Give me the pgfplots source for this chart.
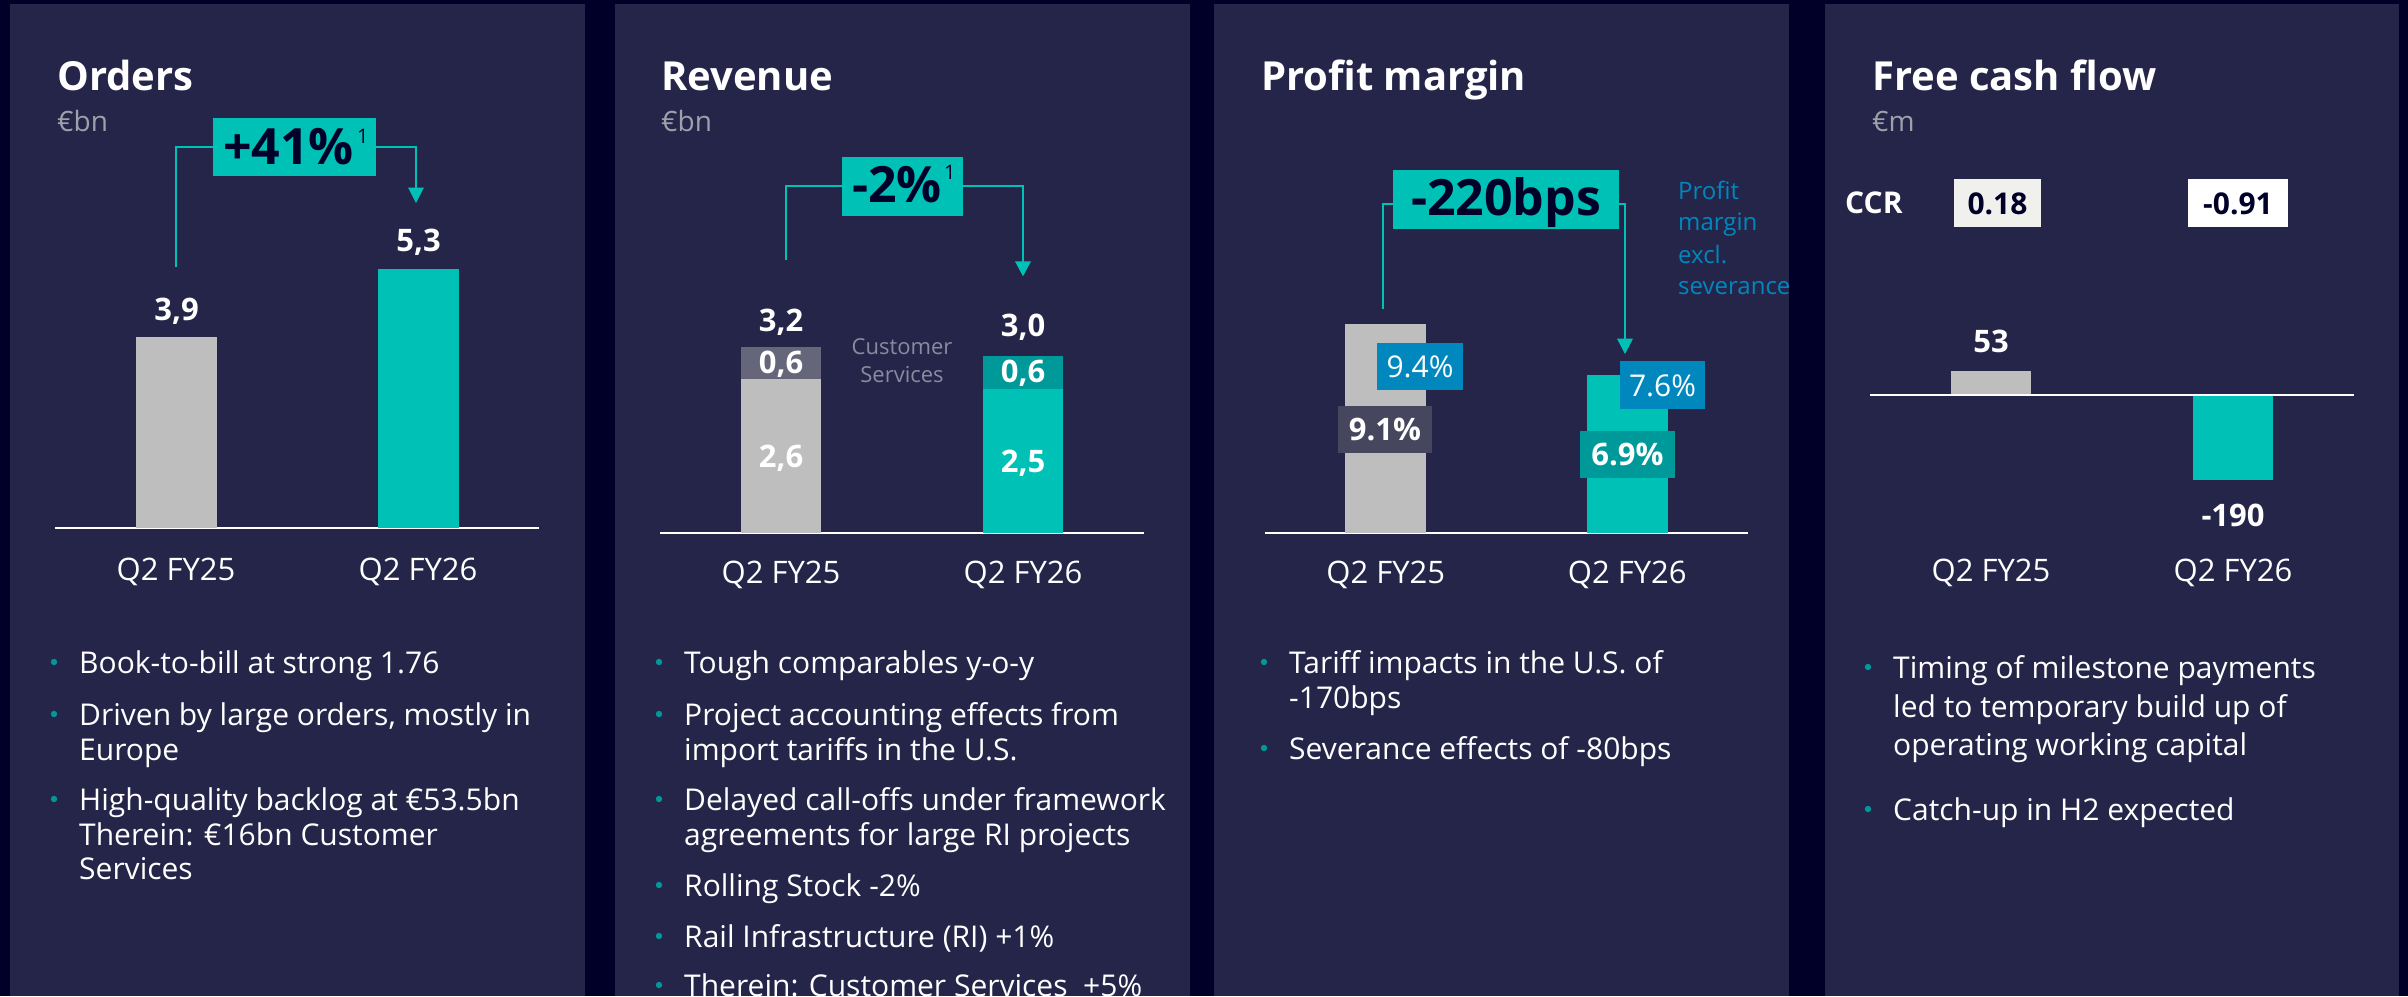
\documentclass[border=0pt]{standalone}
\usepackage{fontspec}
\setmainfont{Open Sans}
\usepackage{pgfplots}
\pgfplotsset{compat=1.18}
\definecolor{bgc}{HTML}{000028}
\definecolor{panelc}{HTML}{252549}
\definecolor{sTeal}{HTML}{00C1B6}
\definecolor{sGray}{HTML}{BEBEBE}
\definecolor{sDGray}{HTML}{66667A}
\definecolor{sDTeal}{HTML}{009999}
\definecolor{sBlue}{HTML}{0087BE}
\definecolor{sBox}{HTML}{46465F}
\definecolor{sSub}{HTML}{A0A0AA}
\definecolor{sCS}{HTML}{8A8AA0}
\definecolor{sNavy}{HTML}{000028}
\definecolor{sLight}{HTML}{F0F0EC}
\newcommand\fs[1]{\fontsize{#1}{#1}\selectfont}
\tikzset{
  t/.style={inner sep=0pt, anchor=base west, text=white},
  tc/.style={inner sep=0pt, anchor=base, text=white},
  conn/.style={sTeal, line width=2pt},
}
\newcommand\bul[3]{\fill[sDTeal] (#1-25,#2-11) circle (3.2);
  \node[t, font=\fs{30}] at (#1,#2) {#3};}
\newcommand\lnx[3]{\node[t, font=\fs{30}] at (#1,#2) {#3};}
\pgfplotsset{panel/.style={scale only axis, xmin=-0.5, xmax=1.5, ymin=0,
  axis y line=none, axis x line*=bottom,
  x axis line style={white, line width=2pt},
  xtick={0,1}, xticklabels={Q2 FY25,Q2 FY26}, major tick length=0pt,
  xticklabel style={anchor=base, text=white, font=\fs{31}, inner sep=0pt, yshift=-#1pt},
  anchor=south west, clip=false}}
\begin{document}
\begin{tikzpicture}[x=1pt,y=-1pt]
\useasboundingbox (0,0) rectangle (2408,996);
\fill[bgc] (0,0) rectangle (2408,996);
\fill[panelc] (10,4) rectangle (585,996);
\fill[panelc] (615,4) rectangle (1190,996);
\fill[panelc] (1214,4) rectangle (1789,996);
\fill[panelc] (1825,4) rectangle (2399,996);

% ---------- Panel 1: Orders ----------
\node[t, font=\fs{40}\bfseries] at (57,90) {Orders};
\node[t, text=sSub, font=\fs{28}] at (57,131) {€bn};
\begin{axis}[panel=52, at={(55pt,-528pt)}, width=484pt, height=293.4pt, ymax=6]
\addplot[ybar, bar shift=0pt, bar width=81pt, fill=sGray, draw=none] coordinates {(0,3.9)};
\addplot[ybar, bar shift=0pt, bar width=81pt, fill=sTeal, draw=none] coordinates {(1,5.3)};
\end{axis}
\node[tc, font=\fs{31}\bfseries] at (176.5,320) {3,9};
\node[tc, font=\fs{31}\bfseries] at (418.5,251) {5,3};
\draw[conn] (176,267) -- (176,146.6) -- (213,146.6);
\draw[conn] (376,146.6) -- (416,146.6) -- (416,189);
\fill[sTeal] (408,187.5) -- (424,187.5) -- (416,203) -- cycle;
\fill[sTeal] (213,117.5) rectangle (376,175.7);
\node[t, text=sNavy, font=\fs{50}\bfseries] at (223,164.6) {+41\%};
\node[t, text=sNavy, font=\fs{20}] at (357,143.5) {1};
\bul{79}{673}{Book-to-bill at strong 1.76}
\bul{79}{725}{Driven by large orders, mostly in}
\lnx{79}{760}{Europe}
\bul{79}{810}{High-quality backlog at €53.5bn}
\lnx{79}{845}{Therein: €16bn Customer}
\lnx{79}{879}{Services}

% ---------- Panel 2: Revenue ----------
\node[t, font=\fs{40}\bfseries] at (661,90) {Revenue};
\node[t, text=sSub, font=\fs{28}] at (661,131) {€bn};
\begin{axis}[panel=51, at={(660pt,-532.7pt)}, width=484pt, height=234pt, ymax=4]
\addplot[ybar, bar shift=0pt, bar width=80pt, fill=sDGray, draw=none] coordinates {(0,3.17)};
\addplot[ybar, bar shift=0pt, bar width=80pt, fill=sGray, draw=none] coordinates {(0,2.63)};
\addplot[ybar, bar shift=0pt, bar width=80pt, fill=sDTeal, draw=none] coordinates {(1,3.02)};
\addplot[ybar, bar shift=0pt, bar width=80pt, fill=sTeal, draw=none] coordinates {(1,2.45)};
\end{axis}
\node[tc, font=\fs{31}\bfseries] at (781,331) {3,2};
\node[tc, font=\fs{31}\bfseries] at (781,373) {0,6};
\node[tc, font=\fs{31}\bfseries] at (781,467.7) {2,6};
\node[tc, font=\fs{31}\bfseries] at (1023,336.8) {3,0};
\node[tc, font=\fs{31}\bfseries] at (1023,382.7) {0,6};
\node[tc, font=\fs{31}\bfseries] at (1023,472.6) {2,5};
\node[tc, text=sCS, font=\fs{22}] at (902,354) {Customer};
\node[tc, text=sCS, font=\fs{22}] at (902,382.7) {Services};
\draw[conn] (786,260.2) -- (786,186.4) -- (842,186.4);
\draw[conn] (963,186.4) -- (1023,186.4) -- (1023,263);
\fill[sTeal] (1015,261.4) -- (1031,261.4) -- (1023,276.3) -- cycle;
\fill[sTeal] (842,156.9) rectangle (963,215.5);
\node[t, text=sNavy, font=\fs{50}\bfseries] at (852,202.8) {-2\%};
\node[t, text=sNavy, font=\fs{20}] at (944,179.9) {1};
\bul{684}{673}{Tough comparables y-o-y}
\bul{684}{725}{Project accounting effects from}
\lnx{684}{760}{import tariffs in the U.S.}
\bul{684}{810}{Delayed call-offs under framework}
\lnx{684}{845}{agreements for large RI projects}
\bul{684}{896}{Rolling Stock -2\%}
\bul{684}{947}{Rail Infrastructure (RI) +1\%}
\bul{684}{996}{Therein: Customer Services\ \ +5\%}

% ---------- Panel 3: Profit margin ----------
\node[t, font=\fs{40}\bfseries] at (1261,90) {Profit margin};
\begin{axis}[panel=50.5, at={(1265pt,-533.1pt)}, width=483pt, height=229.5pt, ymax=10]
\addplot[ybar, bar shift=0pt, bar width=81pt, fill=sGray, draw=none] coordinates {(0,9.1)};
\addplot[ybar, bar shift=0pt, bar width=81pt, fill=sTeal, draw=none] coordinates {(1,6.9)};
\end{axis}
\fill[sBlue] (1377,342.5) rectangle (1463,389.6);
\node[tc, font=\fs{30}] at (1420,377) {9.4\%};
\fill[sBox] (1338,406.4) rectangle (1432,452.7);
\node[tc, font=\fs{31}\bfseries] at (1385,440.1) {9.1\%};
\fill[sBlue] (1620,360.9) rectangle (1705,408.7);
\node[tc, font=\fs{30}] at (1662.5,396.1) {7.6\%};
\fill[sDTeal] (1580,431.3) rectangle (1675,477.6);
\node[tc, font=\fs{31}\bfseries] at (1627.5,465) {6.9\%};
\node[t, text=sBlue, font=\fs{24}] at (1678,199) {Profit};
\node[t, text=sBlue, font=\fs{24}] at (1678,230.8) {margin};
\node[t, text=sBlue, font=\fs{24}] at (1678,263.3) {excl.};
\node[t, text=sBlue, font=\fs{24}] at (1678,294.7) {severance};
\draw[conn] (1383,309.2) -- (1383,204) -- (1393,204);
\draw[conn] (1619,204) -- (1625,204) -- (1625,340);
\fill[sTeal] (1617,338.7) -- (1633,338.7) -- (1625,354) -- cycle;
\fill[sTeal] (1393,170.3) rectangle (1619,228.5);
\node[tc, text=sNavy, font=\fs{50}\bfseries] at (1506,215.5) {-220bps};
\bul{1289}{673}{Tariff impacts in the U.S. of}
\lnx{1289}{708}{-170bps}
\bul{1289}{759}{Severance effects of -80bps}

% ---------- Panel 4: Free cash flow ----------
\node[t, font=\fs{40}\bfseries] at (1872,90) {Free cash flow};
\node[t, text=sSub, font=\fs{28}] at (1872,131) {€m};
\node[t, font=\fs{30}\bfseries] at (1845,213.5) {CCR};
\fill[sLight] (1954,179.1) rectangle (2041,226.6);
\node[tc, text=sNavy, font=\fs{30}\bfseries] at (1997.5,214.3) {0.18};
\fill[white] (2188,179.1) rectangle (2288,226.6);
\node[tc, text=sNavy, font=\fs{30}\bfseries] at (2238,214.3) {-0.91};
\begin{axis}[panel=97.1, at={(1870pt,-484.6pt)}, width=484pt, height=135pt, ymin=-200, ymax=100,
  x axis line style={draw=none}]
\addplot[ybar, bar shift=0pt, bar width=80pt, fill=sGray, draw=none] coordinates {(0,53)};
\addplot[ybar, bar shift=0pt, bar width=80pt, fill=sTeal, draw=none] coordinates {(1,-190)};
\draw[white, line width=2pt] (axis cs:-0.5,0) -- (axis cs:1.5,0);
\end{axis}
\node[tc, font=\fs{31}\bfseries] at (1991,352.9) {53};
\node[tc, font=\fs{31}\bfseries] at (2233,526.2) {-190};
\bul{1893}{678}{Timing of milestone payments}
\lnx{1893}{717}{led to temporary build up of}
\lnx{1893}{755}{operating working capital}
\bul{1893}{820}{Catch-up in H2 expected}
\end{tikzpicture}
\end{document}
